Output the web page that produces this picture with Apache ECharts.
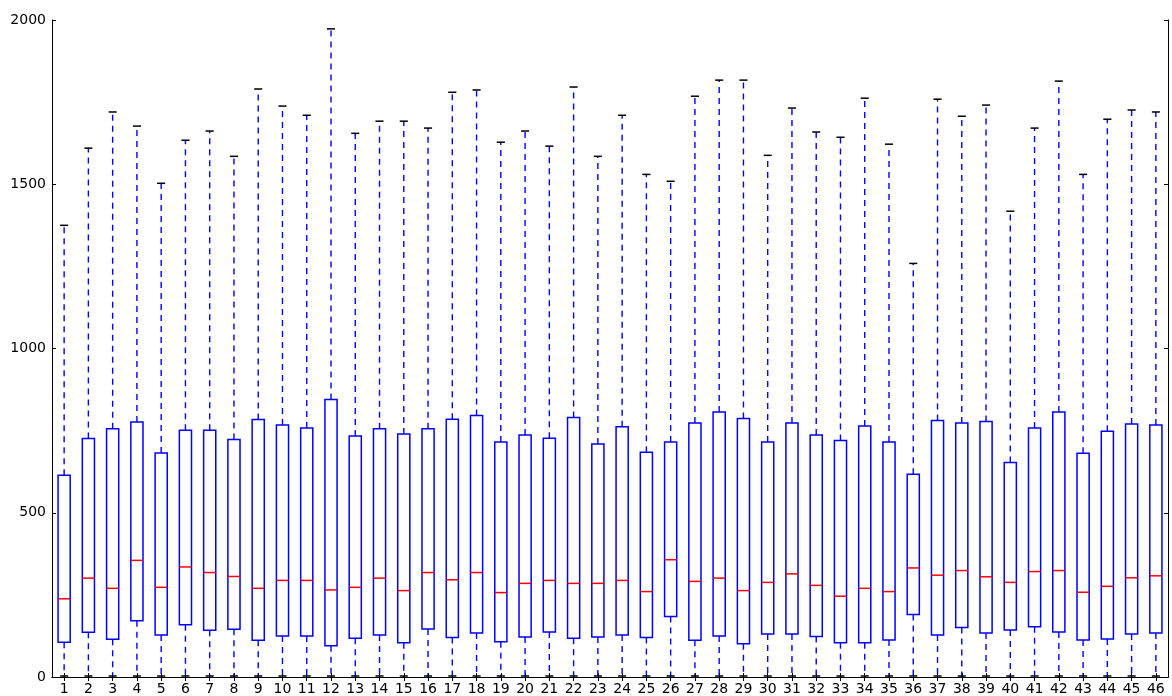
<!DOCTYPE html>
<html>
<head>
<meta charset="utf-8">
<script src="https://cdn.jsdelivr.net/npm/echarts@6/dist/echarts.min.js"></script>
<style>
html, body { margin: 0; padding: 0; background: #fff; }
#chart { width: 1172px; height: 696px; }
</style>
</head>
<body>
<div id="chart"></div>
<script>
// categories 1..46
var labels = ["1","2","3","4","5","6","7","8","9","10","11","12","13","14","15","16",
  "17","18","19","20","21","22","23","24","25","26","27","28","29","30","31",
  "32","33","34","35","36","37","38","39","40","41","42","43","44","45","46"];

// upper whisker ends (caps)
var whiskerHigh = [1375,1610,1720,1677,1503,1634,1662,1585,1790,1738,1710,1973,1655,1692,1692,1671,
  1780,1787,1628,1662,1616,1796,1585,1710,1530,1509,1768,1817,1817,1588,1732,
  1659,1643,1762,1622,1259,1759,1707,1741,1418,1671,1814,1530,1698,1726,1720];

// third quartile (box top)
var q3 = [614,726,756,776,682,751,751,723,784,767,758,845,734,756,740,756,
  785,796,715,737,727,790,709,762,684,715,773,807,787,715,773,
  737,720,764,715,617,781,773,778,653,758,807,681,748,770,767];

// medians
var medians = [238,301,270,355,273,335,318,306,270,294,294,265,273,301,263,318,
  296,318,257,285,294,285,285,294,260,357,291,301,263,288,314,
  279,246,270,260,332,310,324,305,288,321,324,258,276,302,308];

// first quartile (box bottom)
var q1 = [106,136,115,171,128,159,142,145,112,125,125,95,118,128,104,146,
  120,134,107,122,137,118,122,128,120,184,112,125,101,131,131,
  123,104,104,113,190,128,151,134,143,153,137,113,116,131,134];

// lower whisker ends
var whiskerLow = [0,0,0,0,0,0,0,0,0,0,0,0,0,0,0,0,
  0,0,0,0,0,0,0,0,0,0,0,0,0,0,0,
  0,0,0,0,0,0,0,0,0,0,0,0,0,0,0];

var yTicks = { min: 0, max: 2000, interval: 500 };

var rows = labels.map(function (c, i) {
  return [i, whiskerLow[i], q1[i], medians[i], q3[i], whiskerHigh[i]];
});

function seg(x1, y1, x2, y2, color, dashed) {
  var style = { stroke: color, fill: null, lineWidth: dashed ? 1.4 : 1.5 };
  if (dashed) style.lineDash = [6, 5];
  return { type: "line", silent: true, shape: { x1: x1, y1: y1, x2: x2, y2: y2 }, style: style };
}

function renderBox(params, api) {
  var i = api.value(0);
  var lo = api.coord([i, api.value(1)]);
  var b = api.coord([i, api.value(2)]);
  var m = api.coord([i, api.value(3)]);
  var t = api.coord([i, api.value(4)]);
  var hi = api.coord([i, api.value(5)]);
  var w = api.size([1, 0])[0] * 0.5;
  var cx = lo[0];
  var x0 = cx - w / 2, x1 = cx + w / 2;
  var c0 = cx - w / 3, c1 = cx + w / 3;
  return {
    type: "group",
    children: [
      seg(cx, b[1], cx, lo[1], "#0000ff", true),
      seg(cx, t[1], cx, hi[1], "#0000ff", true),
      seg(c0, hi[1], c1, hi[1], "#000000", false),
      seg(c0, lo[1] - 1, c1, lo[1] - 1, "#000000", false),
      {
        type: "rect", silent: true,
        shape: { x: x0, y: t[1], width: x1 - x0, height: b[1] - t[1] },
        style: { fill: null, stroke: "#0000ff", lineWidth: 1.5 }
      },
      seg(x0, m[1], x1, m[1], "#ff0000", false)
    ]
  };
}

var axisText = { color: "#000", fontFamily: "DejaVu Sans", fontSize: 14 };

var myChart = echarts.init(document.getElementById("chart"));
myChart.setOption({
  animation: false,
  backgroundColor: "#fff",
  grid: { left: 52, right: 4, top: 20, bottom: 19, containLabel: false },
  xAxis: [
    {
      type: "category",
      data: labels,
      position: "bottom",
      axisLine: { show: true, lineStyle: { color: "#000", width: 1 } },
      axisTick: { show: true, inside: true, alignWithLabel: true, length: 4, lineStyle: { color: "#000" } },
      axisLabel: Object.assign({ margin: 5, interval: 0 }, axisText),
      splitLine: { show: false }
    },
    {
      type: "category",
      data: labels,
      position: "top",
      axisLine: { show: true, lineStyle: { color: "#000", width: 1 } },
      axisTick: { show: true, inside: true, alignWithLabel: true, length: 4, lineStyle: { color: "#000" } },
      axisLabel: { show: false },
      splitLine: { show: false }
    }
  ],
  yAxis: [
    {
      type: "value",
      min: yTicks.min, max: yTicks.max, interval: yTicks.interval,
      position: "left",
      axisLine: { show: true, lineStyle: { color: "#000", width: 1 } },
      axisTick: { show: true, inside: true, length: 4, lineStyle: { color: "#000" } },
      axisLabel: Object.assign({ margin: 6, formatter: function (v) { return String(v); } }, axisText),
      splitLine: { show: false }
    },
    {
      type: "value",
      min: yTicks.min, max: yTicks.max, interval: yTicks.interval,
      position: "right",
      axisLine: { show: true, lineStyle: { color: "#000", width: 1 } },
      axisTick: { show: true, inside: true, length: 4, lineStyle: { color: "#000" } },
      axisLabel: { show: false },
      splitLine: { show: false }
    }
  ],
  series: [
    {
      type: "custom",
      xAxisIndex: 0,
      yAxisIndex: 0,
      renderItem: renderBox,
      encode: { x: 0, y: [1, 2, 3, 4, 5] },
      data: rows,
      clip: false,
      emphasis: { disabled: true }
    }
  ]
});
</script>
</body>
</html>
